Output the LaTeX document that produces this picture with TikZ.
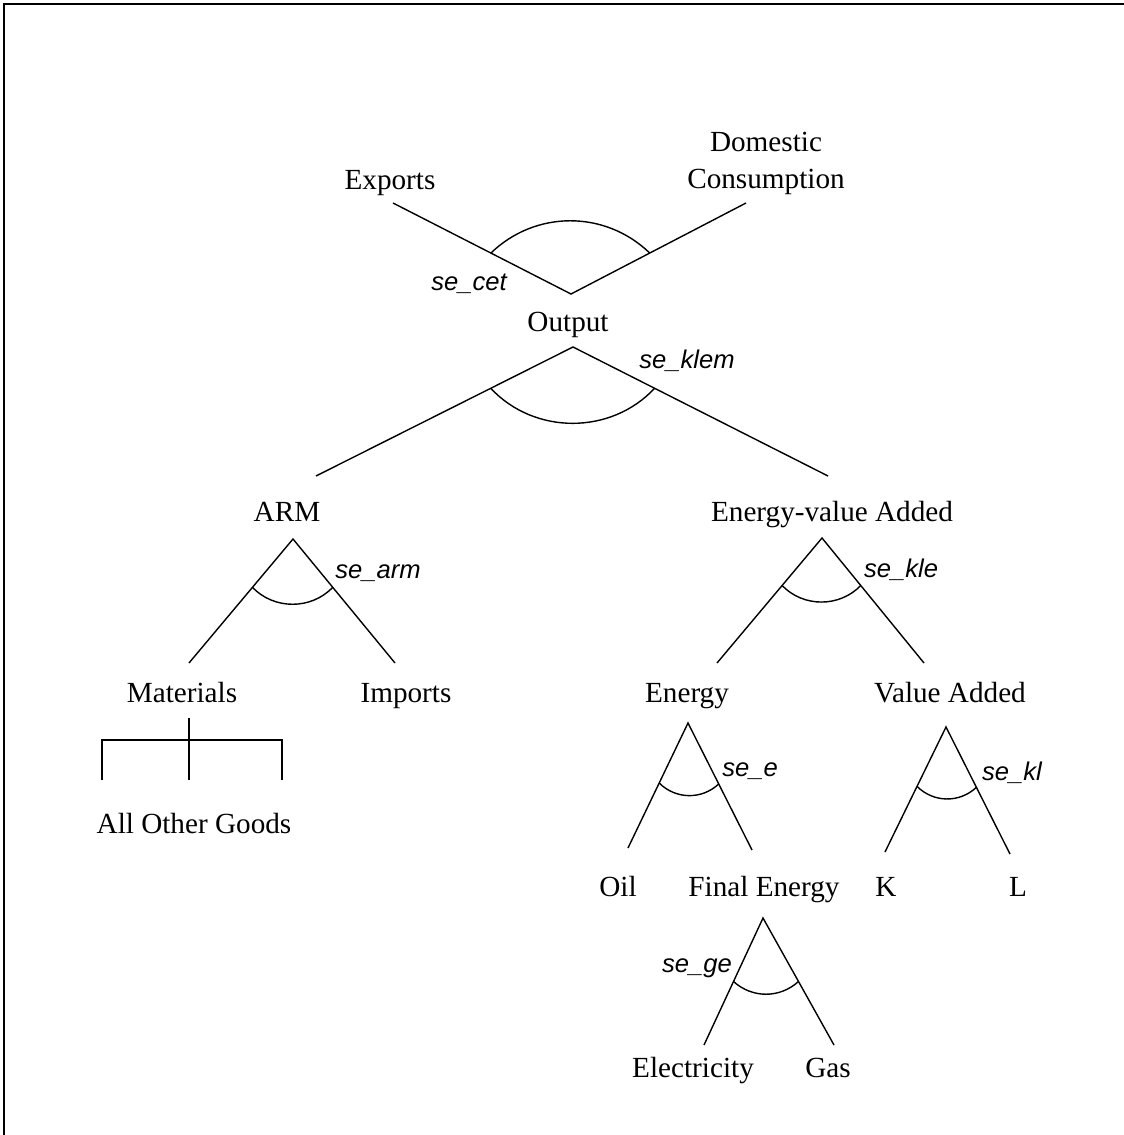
\documentclass[tikz,border=0pt]{standalone}
\usepackage{fontspec}
\setmainfont{Liberation Serif}
\setsansfont{Liberation Sans}
\usetikzlibrary{calc}

\begin{document}
\begin{tikzpicture}[x=0.5pt, y=-0.5pt,
        good/.style   = {inner sep=0pt, anchor=base, text=black,
                         font=\fontsize{14.6}{18.5}\selectfont},
        sigma/.style  = {inner sep=0pt, anchor=base, text=black,
                         font=\sffamily\itshape\fontsize{12.8}{15}\selectfont},
        branch/.style = {line width=0.7pt, line join=miter},
        nest/.style   = {line width=0.7pt}]
        \useasboundingbox (0,0) rectangle (1124,1135);
        \draw[line width=0.8pt] (4,1135) -- (4,4) -- (1124,4);

        % ---------------------------------------------------------------------------
        % Draw nodes
        % ---------------------------------------------------------------------------
        \node[good]                             (Exports)   at (390,189)  {Exports};
        \node[good, anchor=north, align=center] (Domestic)  at (766,132)  {Domestic\\Consumption};
        \node[good]                             (Output)    at (568,331)  {Output};
        \node[good]                             (ARM)       at (287,521)  {ARM};
        \node[good]                             (EVA)       at (832,521)  {Energy-value Added};
        \node[good]                             (Materials) at (182,702)  {Materials};
        \node[good]                             (Imports)   at (406,702)  {Imports};
        \node[good]                             (Goods)     at (194,833)  {All Other Goods};
        \node[good]                             (Energy)    at (687,702)  {Energy};
        \node[good]                             (VA)        at (950,702)  {Value Added};
        \node[good]                             (Oil)       at (618,896)  {Oil};
        \node[good]                             (FE)        at (764,896)  {Final Energy};
        \node[good]                             (K)         at (886,896)  {K};
        \node[good]                             (L)         at (1018,896) {L};
        \node[good]                             (Elec)      at (693,1077) {Electricity};
        \node[good]                             (Gas)       at (828,1077) {Gas};

        % ---------------------------------------------------------------------------
        % Elasticity labels
        % ---------------------------------------------------------------------------
        \node[sigma] (seCET)  at (469,290)  {se\_cet};
        \node[sigma] (seKLEM) at (687,368)  {se\_klem};
        \node[sigma] (seARM)  at (378,578)  {se\_arm};
        \node[sigma] (seKLE)  at (901,577)  {se\_kle};
        \node[sigma] (seE)    at (750,776)  {se\_e};
        \node[sigma] (seKL)   at (1012,780) {se\_kl};
        \node[sigma] (seGE)   at (697,972)  {se\_ge};

        % ---------------------------------------------------------------------------
        % Nest corners
        % ---------------------------------------------------------------------------
        \coordinate (CET)   at (571,294);  \coordinate (CETl)   at (393,203);  \coordinate (CETr)   at (746,203);
        \coordinate (KLEM)  at (573,347);  \coordinate (KLEMl)  at (316,476);  \coordinate (KLEMr)  at (828,476);
        \coordinate (ARMt)  at (293,539);  \coordinate (ARMl)   at (189,663);  \coordinate (ARMr)   at (395,663);
        \coordinate (KLE)   at (822,538);  \coordinate (KLEl)   at (717,663);  \coordinate (KLEr)   at (924,663);
        \coordinate (Et)    at (688,723);  \coordinate (El)     at (628,848);  \coordinate (Er)     at (752,850);
        \coordinate (KL)    at (946,727);  \coordinate (KLl)    at (885,852);  \coordinate (KLr)    at (1010,854);
        \coordinate (GE)    at (763,918);  \coordinate (GEl)    at (704,1045); \coordinate (GEr)    at (834,1045);
        \coordinate (MatTop) at (189,718); \coordinate (MatBar) at (189,740);
        \coordinate (MatL)  at (102,780);  \coordinate (MatM)   at (189,780);  \coordinate (MatR)   at (282,780);

        % ---------------------------------------------------------------------------
        % Draw branches
        % ---------------------------------------------------------------------------
        \draw[branch] (CETl)  -- (CET)  -- (CETr);     % Output split
        \draw[branch] (KLEMl) -- (KLEM) -- (KLEMr);    % Output nest
        \draw[branch] (ARMl)  -- (ARMt) -- (ARMr);     % Armington
        \draw[branch] (KLEl)  -- (KLE)  -- (KLEr);     % Energy-value added
        \draw[branch] (El)    -- (Et)   -- (Er);       % Energy
        \draw[branch] (KLl)   -- (KL)   -- (KLr);      % Value added
        \draw[branch] (GEl)   -- (GE)   -- (GEr);      % Final energy
        \draw[branch] (MatTop) -- (MatM);              % Materials
        \draw[branch] (MatL) |- (MatBar) -| (MatR);

        % ---------------------------------------------------------------------------
        % Draw arcs
        % ---------------------------------------------------------------------------
        \draw[nest] ($(CET)!0.45!(CETl)$)   to[bend left=44]  ($(CET)!0.45!(CETr)$);
        \draw[nest] ($(KLEM)!0.32!(KLEMl)$) to[bend right=47] ($(KLEM)!0.32!(KLEMr)$);
        \draw[nest] ($(ARMt)!0.39!(ARMl)$)  to[bend right=46] ($(ARMt)!0.39!(ARMr)$);
        \draw[nest] ($(KLE)!0.38!(KLEl)$)   to[bend right=46] ($(KLE)!0.38!(KLEr)$);
        \draw[nest] ($(Et)!0.48!(El)$)      to[bend right=44] ($(Et)!0.48!(Er)$);
        \draw[nest] ($(KL)!0.475!(KLl)$)    to[bend right=44] ($(KL)!0.475!(KLr)$);
        \draw[nest] ($(GE)!0.5!(GEl)$)      to[bend right=42] ($(GE)!0.5!(GEr)$);

    \end{tikzpicture}
\end{document}
